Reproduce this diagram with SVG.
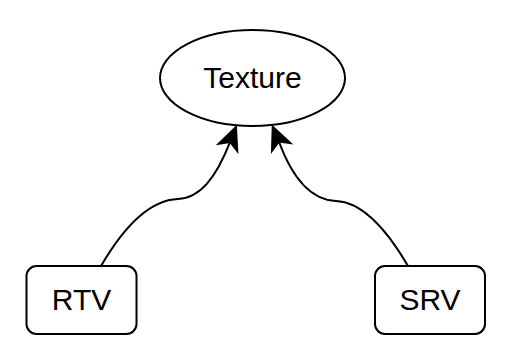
<svg xmlns="http://www.w3.org/2000/svg" width="510" height="360" viewBox="0 0 510 360">
<style>
.shape{fill:#ffffff;stroke:#000000;stroke-width:2}
.edge{fill:none;stroke:#000000;stroke-width:2}
.head{fill:#000000;stroke:#000000;stroke-width:2;stroke-linejoin:miter}
.label{font-family:"Liberation Sans",Arial,sans-serif;font-size:30px;fill:#000000;text-anchor:middle}
</style>
<rect width="510" height="360" fill="#ffffff"/>
<g id="connectors">
<path class="edge" d="M101,266 C122,230 148,200 178,199 C200,198 216,178 230.1,141.9"/>
<polygon class="head" points="236,127 218.7,143.8 230.1,141.9 237.3,151.1"/>
<path class="edge" d="M408,266 C387,230 362,202 336,201 C312,200 293,180 278.9,141.5"/>
<polygon class="head" points="272.7,126.7 272,150.9 278.9,141.5 290.4,143.1"/>
</g>
<g id="texture">
<ellipse class="shape" cx="252.5" cy="78" rx="92.5" ry="48"/>
<text class="label" x="252.5" y="88">Texture</text>
</g>
<g id="rtv">
<rect class="shape" x="26.5" y="266" width="110" height="68" rx="10"/>
<text class="label" x="81.5" y="310">RTV</text>
</g>
<g id="srv">
<rect class="shape" x="375" y="266" width="110" height="68" rx="10"/>
<text class="label" x="430" y="310">SRV</text>
</g>
</svg>
